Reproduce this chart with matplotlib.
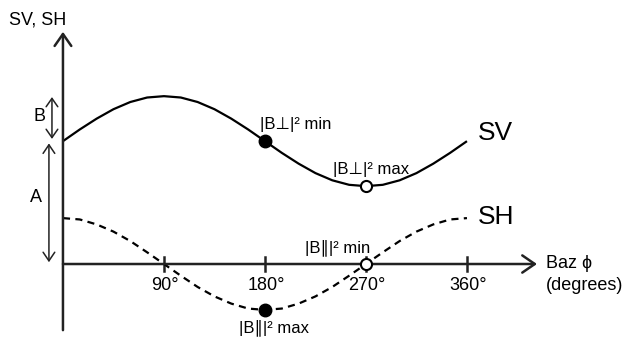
import matplotlib
matplotlib.use("Agg")
import matplotlib.pyplot as plt
import numpy as np

plt.rcParams['font.family'] = ['Liberation Sans', 'DejaVu Sans']

# back-azimuth samples (degrees) and curve values
baz = [0, 15, 30, 45, 60, 75, 90, 105, 120, 135, 150, 165, 180,
       195, 210, 225, 240, 255, 270, 285, 300, 315, 330, 345, 360]
sv = [2.73, 2.99, 3.23, 3.44, 3.60, 3.70, 3.73, 3.70, 3.60, 3.44, 3.23, 2.99, 2.73,
      2.47, 2.23, 2.02, 1.86, 1.76, 1.73, 1.76, 1.86, 2.02, 2.23, 2.47, 2.73]
sh = [1.02, 0.99, 0.88, 0.72, 0.51, 0.26, 0.00, -0.26, -0.51, -0.72, -0.88, -0.99, -1.02,
      -0.99, -0.88, -0.72, -0.51, -0.26, 0.00, 0.26, 0.51, 0.72, 0.88, 0.99, 1.02]

tick_pos = [90, 180, 270, 360]
tick_labels = ['90°', '180°', '270°', '360°']

A = 2.73   # mean SV level
B = 1.0    # SV amplitude

fig = plt.figure(figsize=(6.28, 3.41), dpi=100)
ax = fig.add_axes([0, 0, 1, 1])
ax.set_xlim(-56.1, 503.5)
ax.set_ylim(-1.711, 5.867)
ax.set_axis_off()

k = 'black'

# axes with open arrow heads
ax.annotate('', xy=(0, 5.16), xytext=(0, -1.47),
            arrowprops=dict(arrowstyle='->,head_length=0.86,head_width=0.6',
                            lw=1.8, color='#222222', shrinkA=0, shrinkB=0))
ax.annotate('', xy=(422.4, 0), xytext=(0, 0),
            arrowprops=dict(arrowstyle='->,head_length=0.9,head_width=0.62',
                            lw=1.8, color='#222222', shrinkA=0, shrinkB=0))
for t, lab in zip(tick_pos, tick_labels):
    ax.plot([t, t], [-0.16, 0.16], color='#222222', lw=1.8)
    ax.text(t + 1, -0.47, lab, ha='center', va='center', fontsize=13)

# curves
ax.plot(baz, sv, color=k, lw=1.6, solid_capstyle='butt')
ax.plot(baz, sh, color=k, lw=1.6, linestyle=(0, (3.2, 2.4)))

# markers
ax.plot(180, sv[12], 'o', ms=9, color=k, zorder=5)
ax.plot(270, sv[18], 'o', ms=8, mfc='white', mec=k, mew=1.5, zorder=5)
ax.plot(180, sh[12], 'o', ms=9, color=k, zorder=5)
ax.plot(270, sh[18], 'o', ms=8, mfc='white', mec=k, mew=1.5, zorder=5)

# A and B brackets
ax.annotate('', xy=(-9.8, A + B - 0.02), xytext=(-9.8, A + 0.05),
            arrowprops=dict(arrowstyle='<->,head_length=0.6,head_width=0.42',
                            lw=1.1, color='#222222', shrinkA=0, shrinkB=0))
ax.annotate('', xy=(-12.5, 0.04), xytext=(-12.5, A - 0.05),
            arrowprops=dict(arrowstyle='<->,head_length=0.62,head_width=0.42',
                            lw=1.1, color='#222222', shrinkA=0, shrinkB=0))
ax.text(-20.5, 3.27, 'B', ha='center', va='center', fontsize=13)
ax.text(-24, 1.47, 'A', ha='center', va='center', fontsize=13)

# labels
ax.text(-23, 5.42, 'SV, SH', ha='center', va='center', fontsize=13)
ax.text(430, 0.02, 'Baz ϕ', ha='left', va='center', fontsize=13)
ax.text(430, -0.47, '(degrees)', ha='left', va='center', fontsize=13)
ax.text(369.5, 2.91, 'SV', ha='left', va='center', fontsize=19)
ax.text(369.5, 1.04, 'SH', ha='left', va='center', fontsize=19)

ax.text(175.5, 3.09, '|B⊥|² min', ha='left', va='center', fontsize=12)
ax.text(240.6, 2.09, '|B⊥|² max', ha='left', va='center', fontsize=12)
ax.text(215.6, 0.36, '|B∥|² min', ha='left', va='center', fontsize=12)
ax.text(156.8, -1.42, '|B∥|² max', ha='left', va='center', fontsize=12)

fig.savefig('out.png', dpi=100)
